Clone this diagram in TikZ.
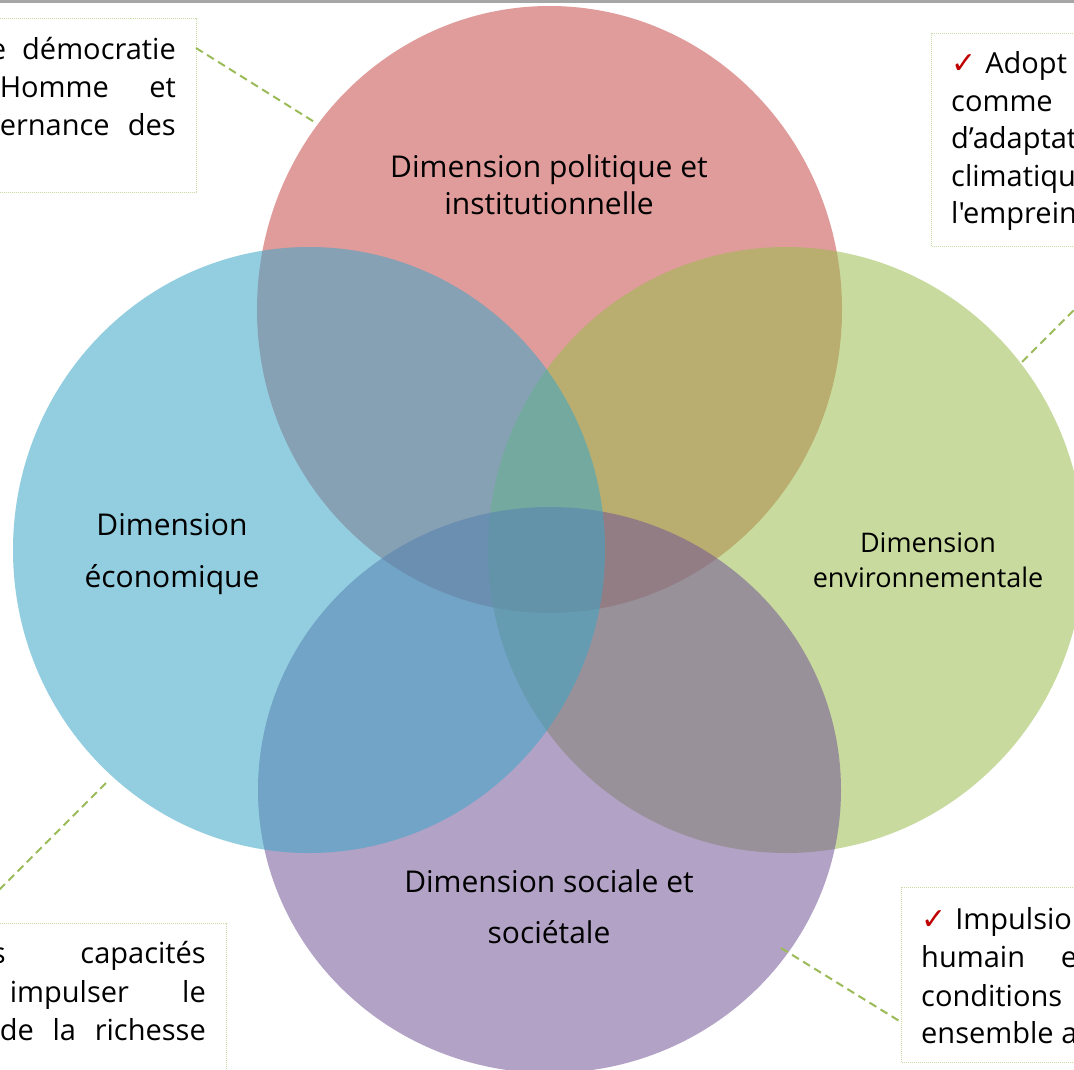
\documentclass[tikz,border=0pt]{standalone}
\usepackage{fontspec}
\setmainfont{Open Sans}[Ligatures=TeXOff]
\newfontfamily\symfont{DejaVu Sans}
\definecolor{redc}{HTML}{C74949}
\definecolor{bluec}{HTML}{3CA6C7}
\definecolor{greenc}{HTML}{9BBC4D}
\definecolor{purplec}{HTML}{735697}
\definecolor{topbar}{HTML}{A6A6A6}
\definecolor{boxline}{HTML}{C9DCA5}
\definecolor{connc}{HTML}{9BBB59}
\definecolor{checkred}{HTML}{C00000}
\newcommand{\chk}{\textcolor{checkred}{\symfont\bfseries\fontsize{30}{30}\selectfont ✓}}
\tikzset{
  venn/.style={fill opacity=0.55},
  lblbig/.style={font=\fontsize{30}{38}\selectfont, anchor=base, inner sep=0pt, text=black},
  lblmid/.style={font=\fontsize{27}{34}\selectfont, anchor=base, inner sep=0pt, text=black},
  ctext/.style={font=\fontsize{29}{38}\selectfont, inner sep=0pt, text=black},
  callout/.style={draw=boxline, line width=1pt, dash pattern=on 1pt off 1pt, fill=white, inner sep=0pt, anchor=north west},
  conn/.style={draw=connc, line width=2pt, dash pattern=on 8pt off 5pt}
}
\begin{document}
\begin{tikzpicture}[x=1pt,y=-1pt]
\useasboundingbox (0,0) rectangle (1074,1069);
\clip (0,0) rectangle (1074,1069);
\fill[white] (0,0) rectangle (1074,1069);
\fill[topbar] (0,0) rectangle (1074,3);

% Venn ellipses
\fill[redc, venn] (549.5,309.5) ellipse [x radius=292.5, y radius=303.5];
\fill[greenc, venn] (786,550) ellipse [x radius=298, y radius=303];
\fill[purplec, venn] (549.5,790) ellipse [x radius=291.5, y radius=283];
\fill[bluec, venn] (309,550) ellipse [x radius=296, y radius=303];

% Circle labels
\node[lblbig] (pol1) at (549,177) {Dimension politique et};
\node[lblbig] (pol2) at (549,214) {institutionnelle};
\node[lblbig] (eco1) at (172,535) {Dimension};
\node[lblbig] (eco2) at (172,587) {économique};
\node[lblmid] (env1) at (928,552) {Dimension};
\node[lblmid] (env2) at (928,587) {environnementale};
\node[lblbig] (soc1) at (549,892) {Dimension sociale et};
\node[lblbig] (soc2) at (549,943) {sociétale};

% Callout boxes
\node[callout, minimum width=201pt, minimum height=174pt] (box1) at (-5,18) {};
\node[callout, minimum width=150pt, minimum height=213pt] (box2) at (931,33) {};
\node[callout, minimum width=231pt, minimum height=160pt] (box3) at (-5,923) {};
\node[callout, minimum width=180pt, minimum height=175pt] (box4) at (901,887) {};

% Box 1 text
\node[ctext, anchor=base east] (t1a) at (176,59) {\makebox[186pt][s]{e démocratie}};
\node[ctext, anchor=base east] (t1b) at (176,97) {\makebox[176pt][s]{Homme et}};
\node[ctext, anchor=base east] (t1c) at (176,135) {\makebox[176pt][s]{ernance des}};

% Box 2 text
\node[ctext, anchor=base west] (t2a) at (951,73) {\chk\hspace{9pt}Adopt};
\node[ctext, anchor=base west] (t2b) at (951,111) {comme};
\node[ctext, anchor=base west] (t2c) at (951,148) {d’adaptat};
\node[ctext, anchor=base west] (t2d) at (951,186) {climatiqu};
\node[ctext, anchor=base west] (t2e) at (951,223) {l'emprein};

% Box 3 text
\node[ctext, anchor=base east] (t3a) at (206,963) {\makebox[214pt][s]{s capacités}};
\node[ctext, anchor=base east] (t3b) at (206,1002) {\makebox[196pt][s]{impulser le}};
\node[ctext, anchor=base east] (t3c) at (206,1040) {\makebox[206pt][s]{de la richesse}};

% Box 4 text
\node[ctext, anchor=base west] (t4a) at (921,929) {\chk\hspace{9pt}Impulsio};
\node[ctext, anchor=base west] (t4b) at (921,967) {\makebox[156pt][s]{humain e}};
\node[ctext, anchor=base west] (t4c) at (921,1006) {conditions};
\node[ctext, anchor=base west] (t4d) at (921,1043) {ensemble a};

% Connectors
\coordinate (c1a) at (196,48);
\coordinate (c1b) at (316,123);
\coordinate (c2a) at (1022,362);
\coordinate (c2b) at (1110,274);
\coordinate (c3a) at (106,783);
\coordinate (c3b) at (-10,899);
\coordinate (c4a) at (781,948);
\coordinate (c4b) at (901,1022);
\draw[conn] (c1a) -- (c1b);
\draw[conn] (c2a) -- (c2b);
\draw[conn] (c3a) -- (c3b);
\draw[conn] (c4a) -- (c4b);
\end{tikzpicture}
\end{document}
